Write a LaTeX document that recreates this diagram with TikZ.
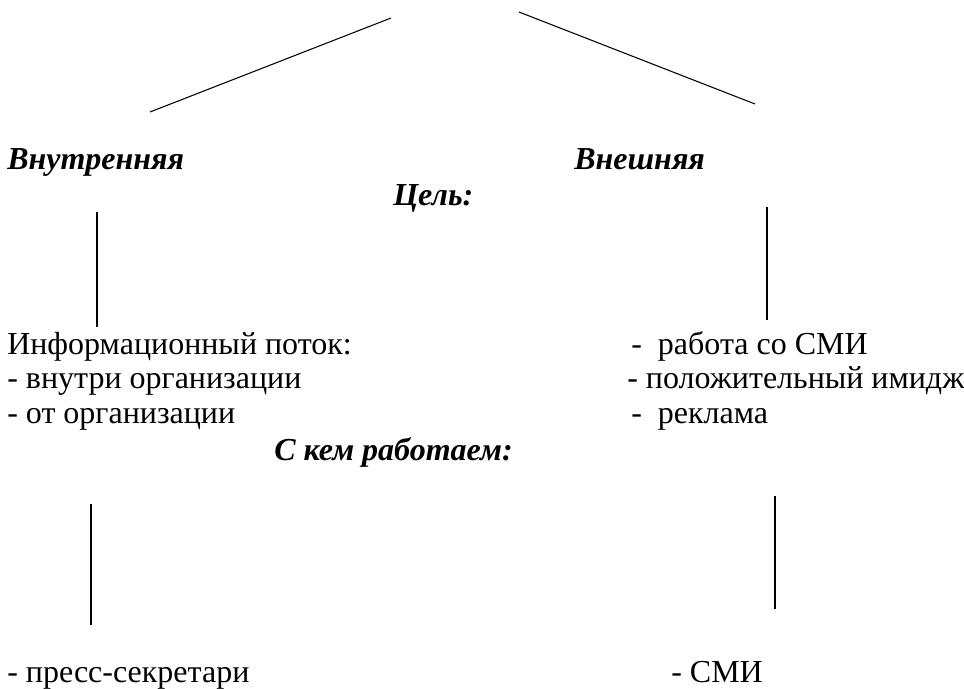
\documentclass[tikz,border=0pt]{standalone}
\usepackage{fontspec}
\setmainfont{Liberation Serif}
\usepackage{tikz}

\begin{document}
\begin{tikzpicture}[x=0.75pt,y=-0.75pt,
  txt/.style={anchor=base west,inner sep=0pt,font=\fontsize{24}{28}\selectfont},
  head/.style={txt,font=\fontsize{24}{28}\selectfont\bfseries\itshape},
  branch/.style={line width=0.8pt}]
\useasboundingbox (0,0) rectangle (964,689);
\fill[white] (0,0) rectangle (964,689);

% upper fork
\coordinate (topL) at (391,18);  \coordinate (forkL) at (150,112);
\coordinate (topR) at (519,12);  \coordinate (forkR) at (755,104);
\draw[branch] (topL)--(forkL);
\draw[branch] (topR)--(forkR);

\node[head] (inner) at (7,169) {Внутренняя};
\node[head] (outer) at (574,169) {Внешняя};
\node[head] (goal) at (393,205) {Цель:};

% first verticals
\coordinate (gL1) at (97,212);  \coordinate (gL2) at (97,327);
\coordinate (gR1) at (767,207); \coordinate (gR2) at (767,320);
\draw[branch] (gL1)--(gL2);
\draw[branch] (gR1)--(gR2);

\node[txt] (flow) at (7,354) {Информационный поток:};
\node[txt] (flowA) at (7,388) {- внутри организации};
\node[txt] (flowB) at (7,423) {- от организации};
\node[txt] (smi) at (631,354) {-\ \ работа со СМИ};
\node[txt] (image) at (627,388) {- положительный имидж};
\node[txt] (ads) at (631,423) {-\ \ реклама};
\node[head] (whom) at (274,460) {С кем работаем:};

% second verticals
\coordinate (wL1) at (91,504);  \coordinate (wL2) at (91,625);
\coordinate (wR1) at (775,496); \coordinate (wR2) at (775,609);
\draw[branch] (wL1)--(wL2);
\draw[branch] (wR1)--(wR2);

\node[txt] (press) at (7,682) {- пресс-секретари};
\node[txt] (media) at (671,682) {- СМИ};
\end{tikzpicture}
\end{document}
